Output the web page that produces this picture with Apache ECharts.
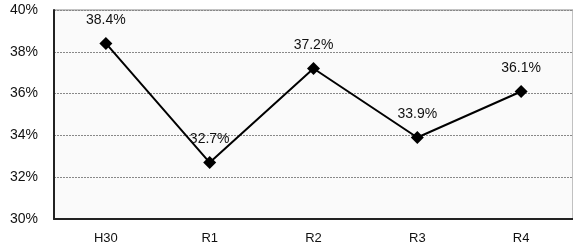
<!DOCTYPE html>
<html>
<head>
<meta charset="utf-8">
<script src="https://cdn.jsdelivr.net/npm/echarts@6/dist/echarts.min.js"></script>
<style>
html,body{margin:0;padding:0;background:#fff;}
#chart{width:573px;height:249px;}
</style>
</head>
<body>
<div id="chart"></div>
<script>
var categories = ['H30', 'R1', 'R2', 'R3', 'R4'];
var rates = [38.4, 32.7, 37.2, 33.9, 36.1];
var yMin = 30, yMax = 40, yStep = 2;

var myChart = echarts.init(document.getElementById('chart'));
myChart.setOption({
    animation: false,
    grid: {
        left: 54, right: 0, top: 10, bottom: 30,
        show: true,
        backgroundColor: '#fafafa',
        borderColor: '#888',
        borderWidth: 1
    },
    xAxis: {
        type: 'category',
        data: categories,
        boundaryGap: true,
        axisLine: { lineStyle: { color: '#222', width: 2 } },
        axisTick: { inside: true, length: 4, lineStyle: { color: '#222' } },
        axisLabel: { color: '#111', fontFamily: 'Liberation Sans', fontSize: 13, margin: 13 }
    },
    yAxis: {
        type: 'value',
        min: yMin, max: yMax, interval: yStep,
        axisLine: { show: true, lineStyle: { color: '#222', width: 2 } },
        axisTick: { show: false },
        axisLabel: {
            color: '#111', fontFamily: 'Liberation Sans', fontSize: 14, margin: 16,
            formatter: function (v) { return v + '%'; }
        },
        splitLine: { lineStyle: { color: '#888', type: [2, 1], width: 1 } }
    },
    series: [{
        type: 'line',
        data: rates,
        symbol: 'diamond',
        symbolSize: 13,
        itemStyle: { color: '#000' },
        lineStyle: { color: '#000', width: 2 },
        label: {
            show: true,
            position: 'top',
            distance: 10,
            color: '#111',
            fontFamily: 'Liberation Sans',
            fontSize: 14,
            formatter: function (p) { return p.value.toFixed(1) + '%'; }
        }
    }]
});
</script>
</body>
</html>
